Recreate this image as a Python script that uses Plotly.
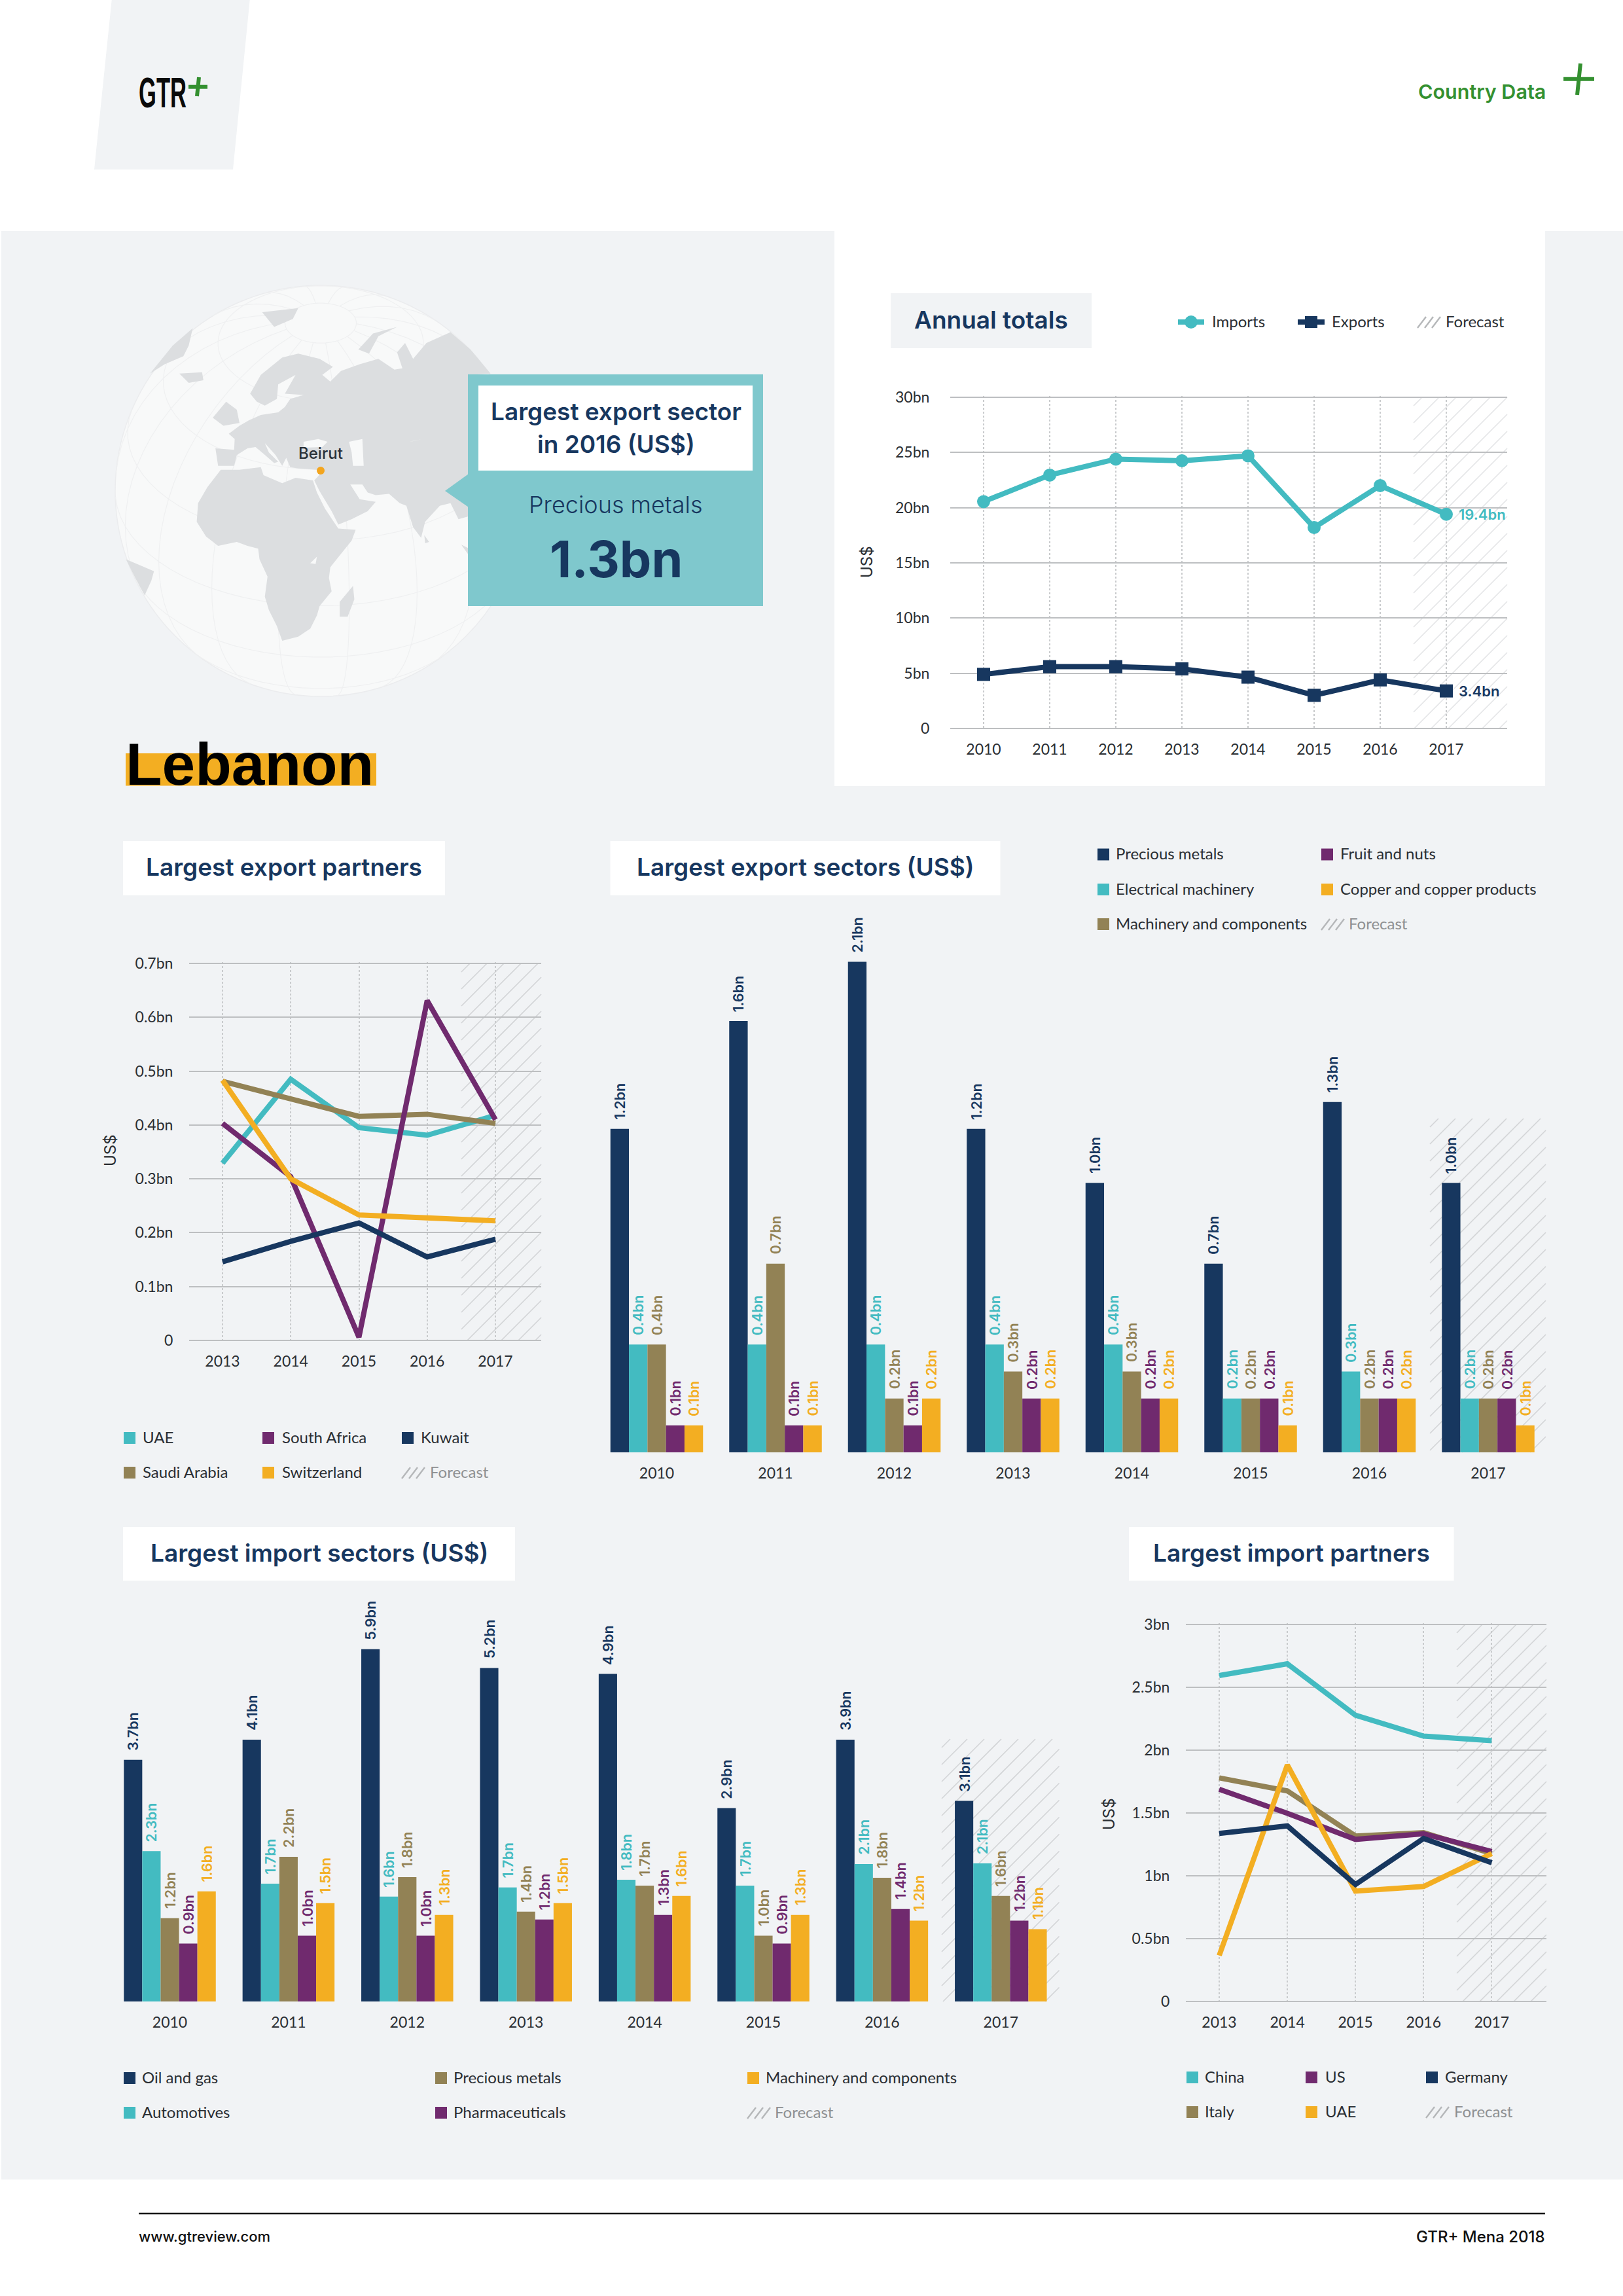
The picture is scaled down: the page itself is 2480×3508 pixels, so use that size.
import math
import plotly.graph_objects as go

# ---------------- DATA ----------------
annual_years = ["2010","2011","2012","2013","2014","2015","2016","2017"]
annual_imports = [20.55,22.95,24.4,24.25,24.7,18.2,22.0,19.4]
annual_exports = [4.9,5.6,5.6,5.4,4.65,3.0,4.4,3.4]
annual_yticks = [0,5,10,15,20,25,30]
annual_ylabels = ["0","5bn","10bn","15bn","20bn","25bn","30bn"]

partner_years = ["2013","2014","2015","2016","2017"]
exp_uae = [0.329,0.485,0.395,0.381,0.418]
exp_saudi = [0.481,0.449,0.416,0.420,0.403]
exp_safrica = [0.403,0.304,0.006,0.631,0.410]
exp_kuwait = [0.146,0.184,0.218,0.155,0.188]
exp_swiss = [0.483,0.300,0.233,0.227,0.222]
exp_yticks = [0,0.1,0.2,0.3,0.4,0.5,0.6,0.7]
exp_ylabels = ["0","0.1bn","0.2bn","0.3bn","0.4bn","0.5bn","0.6bn","0.7bn"]

imp_china = [2.594,2.687,2.278,2.112,2.075]
imp_italy = [1.779,1.676,1.317,1.344,1.177]
imp_us = [1.689,1.497,1.290,1.334,1.194]
imp_uae = [0.366,1.882,0.878,0.915,1.177]
imp_germany = [1.337,1.397,0.931,1.297,1.104]
imp_yticks = [0,0.5,1,1.5,2,2.5,3]
imp_ylabels = ["0","0.5bn","1bn","1.5bn","2bn","2.5bn","3bn"]

sector_years = ["2010","2011","2012","2013","2014","2015","2016","2017"]
# drawn heights / printed labels
es_precious = [1.2,1.6,1.82,1.2,1.0,0.7,1.3,1.0]
es_precious_lab = ["1.2bn","1.6bn","2.1bn","1.2bn","1.0bn","0.7bn","1.3bn","1.0bn"]
es_electrical = [0.4,0.4,0.4,0.4,0.4,0.2,0.3,0.2]
es_electrical_lab = ["0.4bn","0.4bn","0.4bn","0.4bn","0.4bn","0.2bn","0.3bn","0.2bn"]
es_machinery = [0.4,0.7,0.2,0.3,0.3,0.2,0.2,0.2]
es_machinery_lab = ["0.4bn","0.7bn","0.2bn","0.3bn","0.3bn","0.2bn","0.2bn","0.2bn"]
es_fruit = [0.1,0.1,0.1,0.2,0.2,0.2,0.2,0.2]
es_fruit_lab = ["0.1bn","0.1bn","0.1bn","0.2bn","0.2bn","0.2bn","0.2bn","0.2bn"]
es_copper = [0.1,0.1,0.2,0.2,0.2,0.1,0.2,0.1]
es_copper_lab = ["0.1bn","0.1bn","0.2bn","0.2bn","0.2bn","0.1bn","0.2bn","0.1bn"]

is_oil = [3.71,4.02,5.41,5.12,5.03,2.97,4.02,3.08]
is_oil_lab = ["3.7bn","4.1bn","5.9bn","5.2bn","4.9bn","2.9bn","3.9bn","3.1bn"]
is_auto = [2.31,1.81,1.61,1.75,1.87,1.78,2.11,2.12]
is_auto_lab = ["2.3bn","1.7bn","1.6bn","1.7bn","1.8bn","1.7bn","2.1bn","2.1bn"]
is_precious = [1.28,2.22,1.91,1.38,1.78,1.01,1.90,1.62]
is_precious_lab = ["1.2bn","2.2bn","1.8bn","1.4bn","1.7bn","1.0bn","1.8bn","1.6bn"]
is_pharma = [0.89,1.01,1.01,1.26,1.33,0.89,1.42,1.24]
is_pharma_lab = ["0.9bn","1.0bn","1.0bn","1.2bn","1.3bn","0.9bn","1.4bn","1.2bn"]
is_machinery = [1.69,1.51,1.33,1.51,1.62,1.33,1.24,1.11]
is_machinery_lab = ["1.6bn","1.5bn","1.3bn","1.5bn","1.6bn","1.3bn","1.2bn","1.1bn"]

# ---------------- STYLE ----------------
W, H = 2480, 3508
NAVY, TEAL, OLIVE, PURPLE, ORANGE = "#17375F", "#43BBC1", "#928255", "#702A6E", "#F3AE22"
GRAY_BG = "#F1F3F5"
GREEN = "#349030"
GRID = "#BDBFC1"
DOT = "#C9CBCD"
BODY = "Lato"
HEAD = "Inter"
TXT = "#2A2E33"
TICK = 23
LEG = 24
TITLE = 37

shapes, annots = [], []
fig = go.Figure()

def px(x): return x / W
def py(y): return 1 - y / H

def rect(x0, y0, x1, y1, fill):
    shapes.append(dict(type="rect", xref="paper", yref="paper", x0=px(x0), x1=px(x1),
                       y0=py(y1), y1=py(y0), fillcolor=fill, line_width=0, layer="below"))

def poly(pts, fill):
    d = "M" + "L".join(f"{px(x):.5f},{py(y):.5f}" for x, y in pts) + "Z"
    shapes.append(dict(type="path", xref="paper", yref="paper", path=d, fillcolor=fill,
                       line_width=0, layer="below"))

def seg(x0, y0, x1, y1, color, width):
    shapes.append(dict(type="line", xref="paper", yref="paper", x0=px(x0), x1=px(x1),
                       y0=py(y0), y1=py(y1), line=dict(color=color, width=width), layer="below"))

def hatch(x0, y0, x1, y1, spacing=26, width=1.6, color="#D3D5D7"):
    parts = []
    c = y0 + x0 + spacing * 0.5
    end = y1 + x1
    while c < end:
        ax = max(x0, c - y1); ay = c - ax
        bx = min(x1, c - y0); by = c - bx
        if bx > ax:
            parts.append(f"M{px(ax):.5f},{py(ay):.5f}L{px(bx):.5f},{py(by):.5f}")
        c += spacing
    shapes.append(dict(type="path", xref="paper", yref="paper", path="".join(parts),
                       line=dict(color=color, width=width), layer="below"))

def txt(x, y, s, size, color=TXT, anchor="left", family=BODY, weight=None, angle=0):
    f = dict(size=size, color=color, family=family)
    if weight: f["weight"] = weight
    annots.append(dict(xref="paper", yref="paper", x=px(x), y=py(y), text=s, showarrow=False,
                       xanchor=anchor, yanchor="middle", font=f, textangle=angle,
                       borderpad=0, borderwidth=0))

def title_box(x0, y0, x1, y1, s, fill="#FFFFFF", size=TITLE):
    rect(x0, y0, x1, y1, fill)
    txt((x0 + x1) / 2, (y0 + y1) / 2 - 2, s, size, NAVY, "center", HEAD, 600)

def legend_sq(x, y, color, s, tx):
    rect(x, y - 9, x + 18, y + 9, color)
    txt(tx, y - 1.5, s, LEG)

def legend_fc(x, y, tx, color="#8E9092"):
    for d in (0, 11, 22):
        seg(x + d, y + 9, x + d + 13, y - 8, "#B5B7B9", 2.4)
    txt(tx, y - 1.5, "Forecast", LEG, color)

axis_n = [0]
def axes(x0, x1, y0, y1, xr, yr, tickvals, ticktext, yvals=None, ytext=None, grid=True,
         xlen=11, ylen=26):
    axis_n[0] += 1
    n = axis_n[0]
    sfx = "" if n == 1 else str(n)
    xa = dict(domain=[px(x0), px(x1)], range=list(xr), anchor="y" + sfx, tickmode="array",
              tickvals=tickvals, ticktext=ticktext, showgrid=grid, gridcolor=DOT, gridwidth=1.6,
              griddash="dot", zeroline=False, showline=False, ticks="outside", ticklen=xlen,
              tickcolor="rgba(0,0,0,0)", tickfont=dict(size=TICK, color=TXT, family=BODY),
              fixedrange=True, automargin=False)
    ya = dict(range=list(yr), anchor="x" + sfx, zeroline=False, showline=False, fixedrange=True,
              automargin=False)
    if yvals is not None:
        # pad the plotting area by 2px so the gridlines at both range ends are kept
        u = (yr[1] - yr[0]) / (y1 - y0)
        ya["range"] = [yr[0] - 2 * u, yr[1] + 2 * u]
        ya["domain"] = [py(y1 + 2), py(y0 - 2)]
        ya.update(tickmode="array", tickvals=yvals, ticktext=ytext, showgrid=True, gridcolor=GRID,
                  gridwidth=2, ticks="outside", ticklen=ylen, tickcolor="rgba(0,0,0,0)",
                  tickfont=dict(size=TICK, color=TXT, family=BODY))
        xa["ticklen"] = xlen - 2
    else:
        ya["domain"] = [py(y1), py(y0)]
        ya.update(visible=False, showgrid=False)
    fig.update_layout(**{"xaxis" + sfx: xa, "yaxis" + sfx: ya})
    return "x" + sfx, "y" + sfx

# ---------------- PAGE FURNITURE ----------------
rect(2, 353, W, 3330, GRAY_BG)
rect(1275, 353, 2361, 1201, "#FFFFFF")

# header
poly([(170.7, 0), (381.7, 0), (356, 259), (144, 259)], GRAY_BG)
txt(212, 141.5, "GTR", 64, "#0A0A0A", "left", "Liberation Sans", 700)
seg(288, 132.7, 317, 132.7, GREEN, 6)
seg(304, 118, 301, 147, GREEN, 6)
txt(2362, 140, "Country Data", 30.5, GREEN, "right", HEAD, 600)
seg(2389, 120.7, 2436, 120.7, GREEN, 6)
seg(2415, 97, 2410, 145, GREEN, 6)

# footer
seg(212, 3382, 2361, 3382, "#111111", 2.5)
txt(212, 3417, "www.gtreview.com", 22, "#111111", "left", HEAD, 500)
txt(2361, 3417, "GTR+ Mena 2018", 24, "#111111", "right", HEAD, 500)

# globe
gx, gy, gr = 490, 750, 314
shapes.append(dict(type="circle", xref="paper", yref="paper", x0=px(gx - gr), x1=px(gx + gr),
                   y0=py(gy + gr), y1=py(gy - gr), fillcolor="#F8F9F9",
                   line=dict(color="#EBECEE", width=1.5), layer="below"))

def project(lat, lon, lat0=34.0, lon0=32.0):
    la, lo, la0 = math.radians(lat), math.radians(lon - lon0), math.radians(lat0)
    cosc = math.sin(la0) * math.sin(la) + math.cos(la0) * math.cos(la) * math.cos(lo)
    xx = gr * math.cos(la) * math.sin(lo)
    yy = gr * (math.cos(la0) * math.sin(la) - math.sin(la0) * math.cos(la) * math.cos(lo))
    return (gx + xx, gy - yy, cosc > 0)

def grat_path():
    parts = []
    lines = [[(lat, lon) for lon in range(-180, 181, 5)] for lat in range(-60, 81, 20)]
    lines += [[(lat, lon) for lat in range(-80, 81, 5)] for lon in range(-180, 180, 20)]
    for ln in lines:
        pen = False
        for lat, lon in ln:
            xx, yy, vis = project(lat, lon)
            if vis:
                parts.append(("L" if pen else "M") + f"{px(xx):.5f},{py(yy):.5f}")
                pen = True
            else:
                pen = False
    return "".join(parts)
shapes.append(dict(type="path", xref="paper", yref="paper", path=grat_path(),
                   line=dict(color="#EFF0F1", width=1.2), layer="below"))

LAND = "#DCDEE0"
SEA = "#F8F9F9"
def z9(pts):
    return [(170 + a / 2.45, 430 + b / 2.45) for a, b in pts]
land_polys = [
    # Africa
    [(410,705),(480,705),(560,695),(570,725),(640,755),(690,735),(755,745),(770,790),(800,850),(850,925),
     (915,930),(900,970),(860,1020),(820,1070),(815,1110),(825,1160),(780,1215),(770,1250),(745,1300),
     (700,1330),(640,1345),(620,1290),(590,1230),(575,1180),(585,1105),(555,1040),(550,1000),(510,990),
     (470,975),(400,990),(355,955),(320,900),(325,830),(360,770)],
    # Eurasia
    [(390,625),(460,630),(462,590),(440,570),(480,540),(515,520),(560,500),(625,490),(650,470),(670,440),
     (720,425),(650,420),(690,350),(625,385),(620,440),(575,465),(545,450),(520,420),(560,350),(640,285),
     (700,270),(780,290),(830,320),(790,350),(820,375),(860,335),(930,310),(1000,290),(1060,330),(1090,325),
     (1070,265),(1100,230),(1130,290),(1180,230),(1270,190),(1345,255),(1420,345),(1340,350),(1340,840),
     (1335,880),(1300,890),(1270,830),(1230,840),(1175,900),(1160,960),(1130,920),(1105,840),(1080,830),
     (1040,795),(990,800),(960,790),(940,760),(895,760),(930,815),(990,825),(960,860),(900,890),(850,910),
     (825,860),(780,785),(760,745),(778,725),(770,705),(700,700),(670,695),(655,660),(640,690),(615,650),
     (575,605),(590,640),(625,675),(610,680),(570,645),(540,620),(510,625),(470,650),(460,690),(400,690)],
    [(380,510),(430,450),(470,480),(480,530),(420,540)],
    [(255,345),(340,340),(345,370),(290,380)],
    [(145,345),(230,240),(305,175),(290,240),(270,280),(200,310)],
    [(565,115),(700,100),(680,140),(610,170)],
    [(55,1040),(160,1085),(150,1120),(125,1175),(90,1110)],
    [(905,1140),(910,1190),(885,1255),(855,1255),(855,1200)],
    [(1172,950),(1190,975),(1175,980)],
    [(925,255),(980,195),(1070,170),(1000,205),(965,270)],
    [(1310,985),(1340,1000),(1335,1020)],
]
for p in land_polys:
    poly(z9(p), LAND)
sea_polys = [
    [(890,600),(940,590),(945,690),(905,690),(900,640)],
    [(720,600),(775,590),(810,600),(790,620),(720,622)],
    [(745,1055),(770,1030),(765,1058)],
    [(1115,600),(1165,590),(1130,598)],
]
for p in sea_polys:
    poly(z9(p), SEA)
shapes.append(dict(type="circle", xref="paper", yref="paper", x0=px(490 - 6), x1=px(490 + 6),
                   y0=py(719 + 6), y1=py(719 - 6), fillcolor="#F3A51F", line_width=0, layer="below"))
txt(490, 693, "Beirut", 24, "#2A3138", "center", HEAD, 500)
cx = 941
rect(715, 572, 1166, 926, "#7FC8CD")
poly([(680, 750), (716, 724), (716, 775)], "#7FC8CD")
rect(731, 589, 1150, 719, "#FFFFFF")
txt(cx, 628, "Largest export sector", TITLE, NAVY, "center", HEAD, 600)
txt(cx, 678, "in 2016 (US$)", TITLE, NAVY, "center", HEAD, 600)
txt(cx, 771, "Precious metals", 36, NAVY, "center", HEAD, 300)
txt(cx, 854, "1.3bn", 77, NAVY, "center", HEAD, 700)

# Lebanon
rect(192, 1151, 575, 1200.5, "#F3AE22")
txt(192, 1167, "Lebanon", 91, "#000000", "left", "Liberation Sans", 700)

# ---------------- ANNUAL TOTALS ----------------
title_box(1361, 448, 1668, 532, "Annual totals", GRAY_BG)
hatch(2160, 607, 2303, 1113, 26, 1.5, "#E3E4E6")
sp, c0 = 101.0, 1503.0
xa, ya = axes(1452, 2303, 607, 1113, ((1452 - c0) / sp, (2303 - c0) / sp), (0, 30),
              list(range(8)), annual_years, annual_yticks, annual_ylabels, ylen=26)
xs = list(range(8))
fig.add_trace(go.Scatter(x=xs, y=annual_imports, xaxis=xa, yaxis=ya, mode="lines+markers", name="Imports",
                         line=dict(color=TEAL, width=8), marker=dict(symbol="circle", size=20, color=TEAL)))
fig.add_trace(go.Scatter(x=xs, y=annual_exports, xaxis=xa, yaxis=ya, mode="lines+markers", name="Exports",
                         line=dict(color=NAVY, width=8), marker=dict(symbol="square", size=20, color=NAVY)))
for val, lab, col in ((annual_imports[-1], "19.4bn", TEAL), (annual_exports[-1], "3.4bn", NAVY)):
    annots.append(dict(xref=xa, yref=ya, x=7, y=val, text=lab, showarrow=False, xanchor="left", yanchor="middle",
                       xshift=17, font=dict(size=22, color=col, family=HEAD, weight=600)))
txt(1325, 859, "US$", 24, TXT, "center", HEAD, 400, -90)
seg(1800, 492, 1840, 492, TEAL, 8)
shapes.append(dict(type="circle", xref="paper", yref="paper", x0=px(1820 - 10), x1=px(1820 + 10),
                   y0=py(492 + 10), y1=py(492 - 10), fillcolor=TEAL, line_width=0, layer="below"))
txt(1852, 490.5, "Imports", LEG)
seg(1983, 492, 2024, 492, NAVY, 8)
rect(1994, 483, 2013, 501, NAVY)
txt(2035, 490.5, "Exports", LEG)
legend_fc(2166, 492, 2209, TXT)

# ---------------- EXPORT PARTNERS ----------------
title_box(188, 1285, 680, 1368, "Largest export partners")
hatch(705, 1472, 827, 2048)
sp, c0 = 104.25, 340.0
xa, ya = axes(289, 827, 1472, 2048, ((289 - c0) / sp, (827 - c0) / sp), (0, 0.7),
              list(range(5)), partner_years, exp_yticks, exp_ylabels, ylen=19)
xs = list(range(5))
for vals, col, nm in ((exp_uae, TEAL, "UAE"), (exp_saudi, OLIVE, "Saudi Arabia"), (exp_safrica, PURPLE, "South Africa"),
                      (exp_kuwait, NAVY, "Kuwait"), (exp_swiss, ORANGE, "Switzerland")):
    fig.add_trace(go.Scatter(x=xs, y=vals, xaxis=xa, yaxis=ya, mode="lines", name=nm, line=dict(color=col, width=8)))
txt(169, 1758, "US$", 24, TXT, "center", HEAD, 400, -90)
legend_sq(189, 2197, TEAL, "UAE", 218)
legend_sq(189, 2250, OLIVE, "Saudi Arabia", 218)
legend_sq(401, 2197, PURPLE, "South Africa", 431)
legend_sq(401, 2250, ORANGE, "Switzerland", 431)
legend_sq(614, 2197, NAVY, "Kuwait", 643)
legend_fc(614, 2250, 657)

# ---------------- SECTOR BARS ----------------
def bars(x0, x1, y0, y1, ymax, c0, sp, bw, hatch_box, series):
    hatch(*hatch_box)
    xa, ya = axes(x0, x1, y0, y1, ((x0 - c0) / sp, (x1 - c0) / sp), (0, ymax),
                  list(range(len(sector_years))), sector_years, grid=False)
    w = bw / sp
    for k, (vals, labs, col, nm) in enumerate(series):
        pos = [i + (k - 2) * w for i in range(len(vals))]
        fig.add_trace(go.Bar(x=pos, y=vals, width=w, xaxis=xa, yaxis=ya, name=nm,
                             marker=dict(color=col, line_width=0)))
        for p, v, l in zip(pos, vals, labs):
            annots.append(dict(xref=xa, yref=ya, x=p, y=v, text=l, showarrow=False, textangle=-90,
                               xanchor="center", yanchor="bottom", yshift=12,
                               font=dict(size=21.5, color=col, family=HEAD, weight=600)))

title_box(932.5, 1285, 1528.5, 1368, "Largest export sectors (US$)")
bars(925, 2370, 1400, 2219, 819 / 411.8, 1003.5, 181.5, 28.3, (2185, 1709, 2362, 2219),
     [(es_precious, es_precious_lab, NAVY, "Precious metals"),
      (es_electrical, es_electrical_lab, TEAL, "Electrical machinery"),
      (es_machinery, es_machinery_lab, OLIVE, "Machinery and components"),
      (es_fruit, es_fruit_lab, PURPLE, "Fruit and nuts"),
      (es_copper, es_copper_lab, ORANGE, "Copper and copper products")])
legend_sq(1677, 1305.5, NAVY, "Precious metals", 1705)
legend_sq(1677, 1359, TEAL, "Electrical machinery", 1705)
legend_sq(1677, 1412, OLIVE, "Machinery and components", 1705)
legend_sq(2019, 1305.5, PURPLE, "Fruit and nuts", 2048)
legend_sq(2019, 1359, ORANGE, "Copper and copper products", 2048)
legend_fc(2019, 1412, 2061)

title_box(188, 2333, 787, 2415, "Largest import sectors (US$)")
bars(180, 1630, 2450, 3058, 608 / 99.5, 259.5, 181.4, 28.1, (1439, 2657, 1618.5, 3058),
     [(is_oil, is_oil_lab, NAVY, "Oil and gas"),
      (is_auto, is_auto_lab, TEAL, "Automotives"),
      (is_precious, is_precious_lab, OLIVE, "Precious metals"),
      (is_pharma, is_pharma_lab, PURPLE, "Pharmaceuticals"),
      (is_machinery, is_machinery_lab, ORANGE, "Machinery and components")])
legend_sq(189, 3175, NAVY, "Oil and gas", 217)
legend_sq(189, 3228, TEAL, "Automotives", 217)
legend_sq(665, 3175, OLIVE, "Precious metals", 693)
legend_sq(665, 3228, PURPLE, "Pharmaceuticals", 693)
legend_sq(1142, 3175, ORANGE, "Machinery and components", 1170)
legend_fc(1142, 3228, 1184)

# ---------------- IMPORT PARTNERS ----------------
title_box(1725, 2333, 2221.6, 2415, "Largest import partners")
hatch(2226, 2482, 2363, 3058)
sp, c0 = 104.1, 1863.0
xa, ya = axes(1812, 2363, 2482, 3058, ((1812 - c0) / sp, (2363 - c0) / sp), (0, 3),
              list(range(5)), partner_years, imp_yticks, imp_ylabels, ylen=19)
for vals, col, nm in ((imp_china, TEAL, "China"), (imp_italy, OLIVE, "Italy"), (imp_us, PURPLE, "US"),
                      (imp_uae, ORANGE, "UAE"), (imp_germany, NAVY, "Germany")):
    fig.add_trace(go.Scatter(x=xs, y=vals, xaxis=xa, yaxis=ya, mode="lines", name=nm, line=dict(color=col, width=8)))
txt(1694, 2772, "US$", 24, TXT, "center", HEAD, 400, -90)
legend_sq(1813, 3174, TEAL, "China", 1841)
legend_sq(1813, 3227, OLIVE, "Italy", 1841)
legend_sq(1995, 3174, PURPLE, "US", 2025)
legend_sq(1995, 3227, ORANGE, "UAE", 2025)
legend_sq(2179, 3174, NAVY, "Germany", 2208)
legend_fc(2179, 3227, 2222)

fig.update_layout(template="none", width=W, height=H,
                  margin=dict(l=0, r=0, t=0, b=0, pad=0, autoexpand=False), autosize=False,
                  paper_bgcolor="#FFFFFF", plot_bgcolor="rgba(0,0,0,0)", showlegend=False,
                  barmode="overlay", hovermode=False, shapes=shapes, annotations=annots,
                  font=dict(family=BODY, color=TXT))
post = """
document.body.style.margin='0';
var gtr=Array.from(document.querySelectorAll('text.annotation-text')).find(function(e){return e.textContent==='GTR';});
if(gtr){var b=gtr.getBBox();gtr.setAttribute('transform','translate('+b.x+' 0) scale(0.54 1) translate('+(-b.x)+' 0)');}
"""
fig.write_html("out.html", config={"displayModeBar": False}, post_script=post)
